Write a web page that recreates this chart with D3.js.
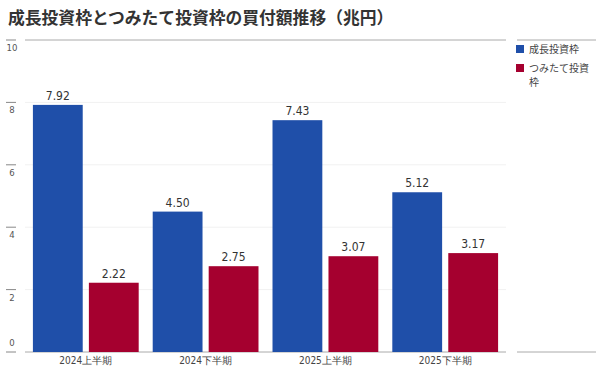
<!DOCTYPE html>
<html>
<head>
<meta charset="utf-8">
<script src="https://cdn.jsdelivr.net/npm/d3@7"></script>
<style>
  body { margin: 0; background: #fff; }
  text { font-family: "Noto Sans CJK JP", "Noto Sans", sans-serif; }
  .num { font-family: "DejaVu Sans", sans-serif; font-stretch: condensed; }
</style>
</head>
<body>
<div id="chart"></div>
<script>
// data
var categories = ["2024上半期", "2024下半期", "2025上半期", "2025下半期"];
var seriesNames = ["成長投資枠", "つみたて投資枠"];
var growth = [7.92, 4.50, 7.43, 5.12];
var tsumitate = [2.22, 2.75, 3.07, 3.17];
var yTicks = [0, 2, 4, 6, 8, 10];
var colors = ["#1f4fa9", "#a5002f"];

var svgWidth = 600, svgHeight = 368;
var margin = { top: 40, right: 94, bottom: 16, left: 25 };
var width = svgWidth - margin.left - margin.right;
var height = svgHeight - margin.top - margin.bottom;

var svg = d3.select("#chart").append("svg")
  .attr("width", svgWidth)
  .attr("height", svgHeight);

// title
svg.append("text")
  .attr("x", 8).attr("y", 24)
  .attr("font-size", 16.8).attr("font-weight", "bold")
  .attr("fill", "#333")
  .text("成長投資枠とつみたて投資枠の買付額推移（兆円）");

var g = svg.append("g").attr("transform", `translate(${margin.left},${margin.top})`);

var x0 = d3.scaleBand().domain(categories).range([0, width]).paddingInner(0.117).paddingOuter(0.066);
var x1 = d3.scaleBand().domain(seriesNames).range([0, x0.bandwidth()]).paddingInner(0.11);
var y = d3.scaleLinear().domain([0, 10]).range([height, 0]);

// faint gridlines
g.selectAll(".grid").data(yTicks.filter(d => d > 0 && d < 10)).enter().append("line")
  .attr("x1", 0).attr("x2", width)
  .attr("y1", d => y(d)).attr("y2", d => y(d))
  .attr("stroke", "#f1f1f1").attr("stroke-width", 1);

// top and bottom rules
[0, 10].forEach(function(v) {
  g.append("line").attr("x1", 0).attr("x2", width)
    .attr("y1", y(v)).attr("y2", y(v))
    .attr("stroke", "#aaa").attr("stroke-width", 1);
  svg.append("line").attr("x1", 517).attr("x2", 596)
    .attr("y1", margin.top + y(v)).attr("y2", margin.top + y(v))
    .attr("stroke", "#aaa").attr("stroke-width", 1);
});

// y tick dashes + labels
var yAxis = svg.append("g");
yAxis.selectAll("line").data(yTicks).enter().append("line")
  .attr("x1", 6).attr("x2", 16)
  .attr("y1", d => margin.top + y(d)).attr("y2", d => margin.top + y(d))
  .attr("stroke", "#888");
yAxis.selectAll("text").data(yTicks).enter().append("text")
  .attr("class", "num")
  .attr("x", 12).attr("y", d => margin.top + y(d) + (d === 0 ? -6 : 11))
  .attr("text-anchor", "middle").attr("font-size", 9.5).attr("fill", "#555")
  .text(d => d);

// bars
var groups = g.selectAll(".grp").data(categories).enter().append("g")
  .attr("transform", d => `translate(${x0(d)},0)`);

var rows = categories.map((c, i) => [
  { key: seriesNames[0], value: growth[i], color: colors[0] },
  { key: seriesNames[1], value: tsumitate[i], color: colors[1] }
]);

groups.selectAll("rect").data((d, i) => rows[i]).enter().append("rect")
  .attr("x", d => x1(d.key))
  .attr("y", d => y(d.value))
  .attr("width", x1.bandwidth())
  .attr("height", d => height - y(d.value))
  .attr("fill", d => d.color);

groups.selectAll(".val").data((d, i) => rows[i]).enter().append("text")
  .attr("class", "num")
  .attr("x", d => x1(d.key) + x1.bandwidth() / 2)
  .attr("y", d => y(d.value) - 5)
  .attr("text-anchor", "middle").attr("font-size", 12).attr("fill", "#333")
  .text(d => d.value.toFixed(2));

// category labels
g.selectAll(".cat").data(categories).enter().append("text")
  .attr("class", "num")
  .attr("x", d => x0(d) + x0.bandwidth() / 2)
  .attr("y", height + 12)
  .attr("text-anchor", "middle").attr("font-size", 10).attr("fill", "#444")
  .text(d => d);

// legend
var legend = svg.append("g").attr("transform", "translate(516,45)");
legend.append("rect").attr("x", 0).attr("y", 0).attr("width", 8).attr("height", 8).attr("fill", colors[0]);
legend.append("text").attr("x", 13).attr("y", 8).attr("font-size", 10).attr("fill", "#444").text(seriesNames[0]);
legend.append("rect").attr("x", 0).attr("y", 19).attr("width", 8).attr("height", 8).attr("fill", colors[1]);
var t2 = legend.append("text").attr("x", 13).attr("y", 27).attr("font-size", 10).attr("fill", "#444");
t2.append("tspan").attr("x", 13).text("つみたて投資");
t2.append("tspan").attr("x", 13).attr("dy", 14).text("枠");
</script>
</body>
</html>
